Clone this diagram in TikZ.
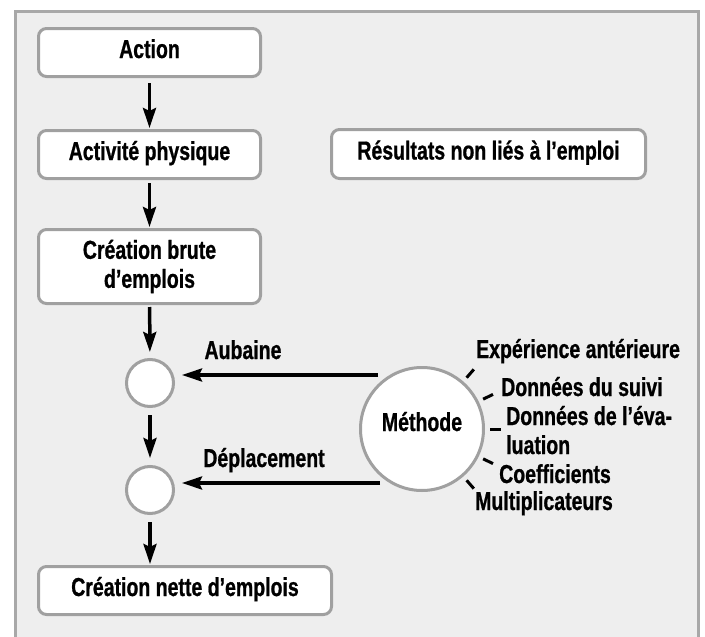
\documentclass[tikz,border=0pt]{standalone}
\usepackage{fontspec}
\setmainfont{Liberation Sans}[FakeStretch=0.75,FakeBold=0.8]
\usetikzlibrary{arrows.meta}
\definecolor{framegray}{HTML}{A8A8A8}
\definecolor{panel}{HTML}{EEEEEE}
\definecolor{boxgray}{HTML}{A0A0A0}

\begin{document}
\begin{tikzpicture}[x=1pt,y=-1pt,
  every node/.style={font=\fontsize{26}{29}\selectfont\bfseries, text=black},
  box/.style={draw=boxgray, line width=3pt, fill=white, rounded corners=8pt,
    align=center, inner sep=0pt},
  onebox/.style={box, text height=17pt, text depth=6pt},
  junction/.style={circle, draw=boxgray, line width=3pt, fill=white,
    minimum size=47pt, inner sep=0pt},
  arr/.style={line width=3.5pt, -{Stealth[length=20pt,width=13pt,inset=3pt]}},
  tickmark/.style={line width=3pt},
  lbl/.style={inner sep=0pt, anchor=base west, align=left}
]
\useasboundingbox (0,0) rectangle (705,637);
\fill[white] (0,0) rectangle (705,637);

% grey panel, open at the bottom
\fill[panel] (15,11) rectangle (698,637);
\draw[framegray, line width=3pt] (15,637) -- (15,11) -- (698,11) -- (698,637);

% main chain
\node[onebox, minimum width=222pt, minimum height=48pt] (action) at (149.5,52.5) {Action};
\node[onebox, minimum width=222pt, minimum height=48pt] (activite) at (149.5,154.5) {Activité physique};
\node[box, minimum width=222pt, minimum height=74pt] (brute) at (149.5,266.5) {Création brute\\d’emplois};
\node[onebox, minimum width=314pt, minimum height=49pt] (resultats) at (488.5,154) {Résultats non liés à l’emploi};
\node[junction] (c1) at (150,383) {};
\node[junction] (c2) at (150,490) {};
\node[onebox, minimum width=293pt, minimum height=48pt] (nette) at (185,590.5) {Création nette d’emplois};

% method circle
\node[circle, draw=boxgray, line width=3pt, fill=white, minimum size=123pt,
  inner sep=0pt, text height=19pt, text depth=15pt] (m) at (422,429) {Méthode};

% vertical flow
\draw[arr, shorten <=5pt, shorten >=1pt] (action) -- (activite);
\draw[arr, shorten <=3pt, shorten >=1pt] (activite) -- (brute);
\draw[arr, shorten <=2pt, shorten >=6pt] (brute) -- (c1);
\draw[arr, shorten <=7pt, shorten >=7pt] (c1) -- (c2);
\draw[arr, shorten <=7pt, shorten >=1pt] (c2) -- (c2 |- nette.north);

% corrections coming from the method
\draw[arr] ([shift={(-44,-54)}]m.center) -- ([shift={(32,-8)}]c1.center);
\draw[arr] ([shift={(-42,54)}]m.center) -- ([shift={(32,-7)}]c2.center);
\node[inner sep=0pt, anchor=base] (aub) at (243,359) {Aubaine};
\node[inner sep=0pt, anchor=base] (dep) at (264,467) {Déplacement};

% sources of the method
\foreach \a in {49,26,0,-26,-49}
  \draw[tickmark] ([shift={(\a:5pt)}]m.\a) -- ([shift={(\a:16pt)}]m.\a);
\node[lbl] (s1) at (476,358) {Expérience antérieure};
\node[lbl] (s2) at (501,396) {Données du suivi};
\node[lbl] (s3) at (506,454) {Données de l’éva-\\luation};
\node[lbl] (s4) at (499,483) {Coefficients};
\node[lbl] (s5) at (475,510) {Multiplicateurs};
\end{tikzpicture}
\end{document}
